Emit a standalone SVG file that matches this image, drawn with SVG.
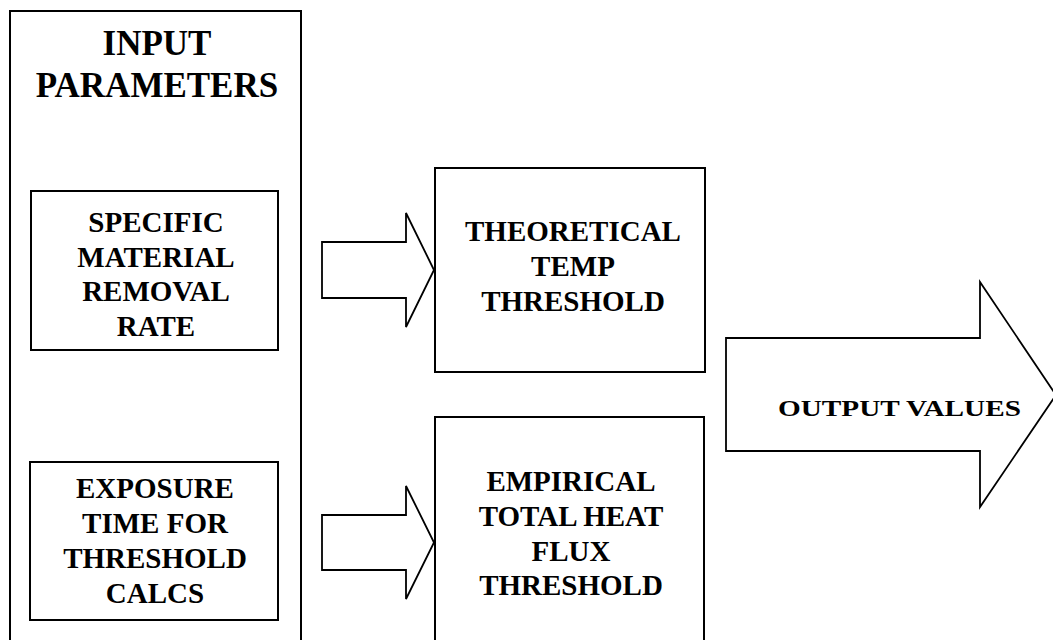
<svg xmlns="http://www.w3.org/2000/svg" width="1053" height="640" viewBox="0 0 1053 640">
<style>
.box{fill:#fff;stroke:#000;stroke-width:2}
.arr{fill:#fff;stroke:#000;stroke-width:1.8;stroke-linejoin:miter}
text{font-family:"Liberation Serif","Times New Roman",serif;font-weight:bold;fill:#000;text-anchor:middle}
.t1{font-size:35px}
.t2{font-size:29px}
</style>
<rect width="1053" height="640" fill="#fff"/>
<g id="input-parameters">
<rect class="box" x="10" y="11" width="291" height="640"/>
<text class="t1" x="157" y="55">INPUT</text>
<text class="t1" x="157" y="97">PARAMETERS</text>
</g>
<g id="specific-mrr">
<rect class="box" x="31" y="191" width="247" height="159"/>
<text class="t2" x="156" y="232">SPECIFIC</text>
<text class="t2" x="156" y="266.5">MATERIAL</text>
<text class="t2" x="156" y="301">REMOVAL</text>
<text class="t2" x="156" y="335.5">RATE</text>
</g>
<g id="exposure-time">
<rect class="box" x="30" y="462" width="248" height="158"/>
<text class="t2" x="155" y="498">EXPOSURE</text>
<text class="t2" x="155" y="533">TIME FOR</text>
<text class="t2" x="155" y="568">THRESHOLD</text>
<text class="t2" x="155" y="603">CALCS</text>
</g>
<g id="theoretical-temp">
<rect class="box" x="435" y="168" width="270" height="204"/>
<text class="t2" x="573" y="241">THEORETICAL</text>
<text class="t2" x="573" y="276">TEMP</text>
<text class="t2" x="573" y="311">THRESHOLD</text>
</g>
<g id="empirical-flux">
<rect class="box" x="435" y="417" width="269" height="240"/>
<text class="t2" x="571" y="491">EMPIRICAL</text>
<text class="t2" x="571" y="526">TOTAL HEAT</text>
<text class="t2" x="571" y="561">FLUX</text>
<text class="t2" x="571" y="595">THRESHOLD</text>
</g>
<g id="connectors">
<path class="arr" d="M322,242 H406 V213 L434,270 L406,327 V298 H322 Z"/>
<path class="arr" d="M322,515 H406 V486 L434,542.5 L406,599 V570 H322 Z"/>
</g>
<g id="output-values">
<path class="arr" d="M726,338 H980 V282 L1056,395 L980,507 V451 H726 Z"/>
<text x="778" y="416" style="font-size:23px;text-anchor:start" textLength="243" lengthAdjust="spacingAndGlyphs">OUTPUT VALUES</text>
</g>
</svg>
